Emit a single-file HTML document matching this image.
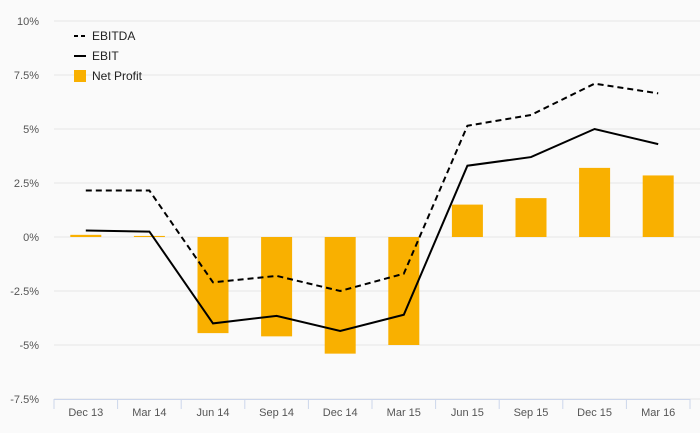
<!DOCTYPE html>
<html><head><meta charset="utf-8"><style>
body{margin:0;background:#fafafa;}
svg{display:block;font-family:"Liberation Sans",sans-serif;}
</style></head><body>
<svg id="chart" width="700" height="433">
<rect width="700" height="433" fill="#fafafa"/>
<g id="grid"></g><g id="bars"></g><g id="lines"></g><g id="axes"></g>
<g>
<g><line x1="74" y1="36" x2="86" y2="36" stroke="#000" stroke-width="2" stroke-dasharray="4,3"/><text x="92" y="40" font-size="12" fill="#222">EBITDA</text></g>
<g><line x1="74" y1="56" x2="86" y2="56" stroke="#000" stroke-width="2"/><text x="92" y="60" font-size="12" fill="#222">EBIT</text></g>
<g><rect x="74" y="70" width="12" height="12" fill="#f9b000"/><text x="92" y="80" font-size="12" fill="#222">Net Profit</text></g>
</g>
</svg>
<script>
const categories=["Dec 13","Mar 14","Jun 14","Sep 14","Dec 14","Mar 15","Jun 15","Sep 15","Dec 15","Mar 16"];
const ebitda=[2.15,2.15,-2.1,-1.8,-2.5,-1.7,5.15,5.65,7.1,6.65];
const ebit=[0.3,0.25,-4.0,-3.65,-4.35,-3.6,3.3,3.7,5.0,4.3];
const netProfit=[0.1,0.05,-4.45,-4.6,-5.4,-5.0,1.5,1.8,3.2,2.85];
const yTicks=[10,7.5,5,2.5,0,-2.5,-5,-7.5];
const yTickLabels=["10%","7.5%","5%","2.5%","0%","-2.5%","-5%","-7.5%"];
const NS="http://www.w3.org/2000/svg";
const x0=54,x1=690,yTop=21,yBot=399,vMax=10,vMin=-7.5;
const bw=(x1-x0)/categories.length;
const y=v=>yTop+(vMax-v)/(vMax-vMin)*(yBot-yTop);
const xc=i=>x0+bw*(i+0.5);
function mk(t,a,p){const e=document.createElementNS(NS,t);for(const k in a)e.setAttribute(k,a[k]);p.appendChild(e);return e;}
const grid=document.getElementById('grid'),axes=document.getElementById('axes'),bars=document.getElementById('bars'),lines=document.getElementById('lines');
yTicks.forEach((v,i)=>{
 const g=mk('line',{x1:x0,x2:x1+10,y1:y(v),y2:y(v),stroke:'#e6e6e6','stroke-width':1},grid);
 
 
 const t=mk('text',{x:39,y:y(v)+4,'text-anchor':'end','font-size':11,fill:'#555'},axes);
 t.textContent=yTickLabels[i];
 
 
});
const ax=mk('line',{x1:x0,x2:x1,y1:yBot+0.5,y2:yBot+0.5,stroke:'#ccd6eb','stroke-width':1},axes);


for(let i=0;i<=categories.length;i++){
 const tk=mk('line',{x1:x0+bw*i,x2:x0+bw*i,y1:yBot,y2:yBot+10,stroke:'#ccd6eb'},axes);
 
 
}
categories.forEach((c,i)=>{
 const t=mk('text',{x:xc(i),y:416,'text-anchor':'middle','font-size':11,fill:'#555'},axes);
 t.textContent=c;
 
 
 const v=netProfit[i];
 const r=mk('rect',{x:xc(i)-15.5,y:Math.min(y(v),y(0)),width:31,height:Math.abs(y(v)-y(0)),fill:'#f9b000'},bars);
 
 
});
function line(arr,dash,name){
 const p=mk('path',{d:arr.map((v,i)=>(i?'L':'M')+xc(i)+','+y(v)).join(''),fill:'none',stroke:'#000','stroke-width':2,'stroke-dasharray':dash},lines);
 
 
}
line(ebitda,'6,4','line-ebitda');
line(ebit,'none','line-ebit');
</script>
</body></html>
